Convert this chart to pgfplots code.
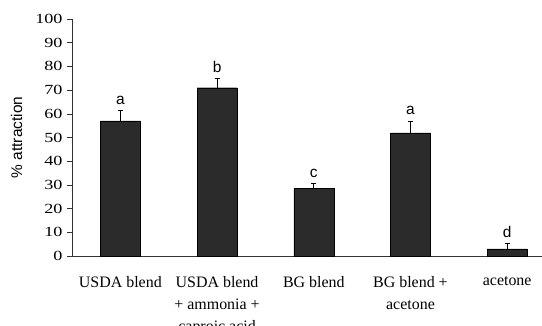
\documentclass[border=0pt]{standalone}
\usepackage{fontspec}
\setmainfont{Liberation Serif}
\newfontfamily\arial{Liberation Sans}
\newfontfamily\wideserif[FakeStretch=1.3]{Liberation Serif}
\usepackage{pgfplots}
\pgfplotsset{compat=1.18}
\begin{document}
\begin{tikzpicture}[x=1bp,y=1bp]
\path[use as bounding box] (0,0) rectangle (542,325);
\begin{axis}[
  at={(72bp,69bp)}, anchor=south west,
  scale only axis, width=470bp, height=237bp,
  xmin=-0.5, xmax=4.36, ymin=0, ymax=100,
  axis x line*=bottom, axis y line*=left,
  axis line style={-, black!80, line width=0.6pt},
  ytick={0,10,...,100},
  xtick={0,1,2,3,4},
  xticklabels={USDA blend, USDA blend\\+ ammonia +\\caproic acid, BG blend, BG blend +\\acetone, acetone},
  xticklabel style={align=center, font=\fontsize{16}{22}\selectfont, yshift=-12bp},
  yticklabel style={font=\wideserif\fontsize{14}{16}\selectfont, xshift=-1bp},
  /pgf/number format/assume math mode=true,
  major x tick style={draw=none},
  extra x ticks={0.5,1.5,2.5,3.5},
  extra x tick labels={},
  extra x tick style={major tick length=5bp, tick style={black!80, line width=0.6pt}, tick align=outside},
  tick align=outside, major tick length=5bp,
  ytick style={black!80, line width=0.6pt},
  ylabel={\arial\fontsize{15.5}{17}\selectfont \% attraction},
  ylabel style={at={(axis description cs:-0.118,0.5)}, anchor=center},
  clip=false,
]
\addplot[ybar, bar width=40bp, fill=black!83, draw=black,
  error bars/.cd, y dir=plus, y explicit, error bar style={black, line width=0.6pt},
  error mark options={rotate=90, mark size=2.5bp, black, line width=0.6pt}]
  coordinates {(0,57) +- (0,4.5) (1,71) +- (0,4) (2,28.5) +- (0,2) (3,52) +- (0,5) (4,3) +- (0,2.2)};
\foreach \x/\y/\l in {0/61.5/a, 1/75/b, 2/30.5/c, 3/57/a, 4/5.2/d}{
  \edef\tmp{\noexpand\node[anchor=base, font=\noexpand\arial\noexpand\fontsize{15.5}{17}\noexpand\selectfont, inner sep=0pt] at (axis cs:\x,\y) [yshift=6bp] {\l};}
  \tmp
}
\end{axis}
\end{tikzpicture}
\end{document}
